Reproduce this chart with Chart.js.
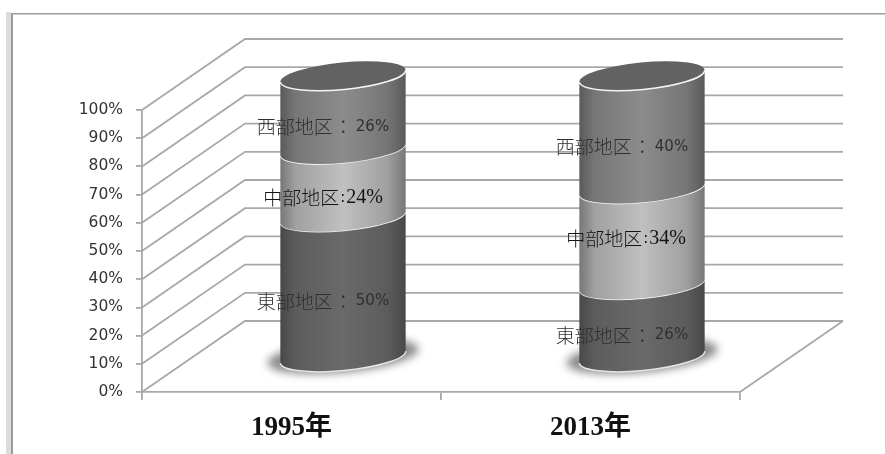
<!DOCTYPE html>
<html>
<head>
<meta charset="utf-8">
<style>
  html, body { margin: 0; padding: 0; background: #fff; }
  canvas { display: block; }
</style>
<script src="https://cdn.jsdelivr.net/npm/chart.js@4/dist/chart.umd.min.js"></script>
</head>
<body>
<canvas id="chart" width="885" height="454"></canvas>
<script>
// Regional share by year
const categories = ['1995年', '2013年'];
const eastShare = [50, 26];
const centralShare = [24, 34];
const westShare = [26, 40];
const eastName = '東部地区';
const centralName = '中部地区';
const westName = '西部地区';

// Shading of the cylinder sides: rim, shoulder, centre
const eastShade = ['#484848', '#5c5c5c', '#6a6a6a'];
const centralShade = ['#767676', '#a0a0a0', '#c0c0c0'];
const westShade = ['#5a5a5a', '#767676', '#8c8c8c'];
const capColour = '#626262';
const hollow = 'rgba(0,0,0,0)';

// Oblique projection of the floor
const depthX = 103;
const depthY = -71;
const cylinderLift = -34;
const tilt = -5.5 * Math.PI / 180;
const minorRadius = 13.5;
const wallColour = '#a8a8a8';

const cjk = '"Noto Sans CJK JP", sans-serif';

function hLine(ctx, x1, y1, x2, y2) {
  ctx.beginPath();
  ctx.moveTo(x1, y1);
  ctx.lineTo(x2, y2);
  ctx.stroke();
}

const framePlugin = {
  id: 'frame',
  beforeDraw(chart) {
    const { ctx, width } = chart;
    ctx.save();
    ctx.fillStyle = '#ffffff';
    ctx.fillRect(0, 0, width, chart.height);
    ctx.fillStyle = '#dcdcdc';
    ctx.fillRect(6, 12, 5, chart.height - 12);
    ctx.fillStyle = '#9c9c9c';
    ctx.fillRect(11, 13, 2, chart.height - 13);
    ctx.fillRect(11, 13, width - 11, 1.5);
    ctx.restore();
  }
};

const wallsPlugin = {
  id: 'walls',
  beforeDatasetsDraw(chart) {
    const { ctx, chartArea: a, scales: { y } } = chart;
    ctx.save();
    ctx.strokeStyle = wallColour;
    ctx.lineWidth = 1.8;
    y.ticks.forEach(t => {
      const py = y.getPixelForValue(t.value);
      ctx.beginPath();
      ctx.moveTo(a.left, py);
      ctx.lineTo(a.left + depthX, py + depthY);
      ctx.lineTo(a.right + depthX, py + depthY);
      ctx.stroke();
    });
    hLine(ctx, a.right, a.bottom, a.right + depthX, a.bottom + depthY);
    ctx.restore();
  }
};

const cylinderPlugin = {
  id: 'cylinders',
  afterDatasetsDraw(chart) {
    const { ctx, data, scales: { y } } = chart;
    const shades = [eastShade, centralShade, westShade];
    const top = data.datasets.length - 1;
    const zero = y.getPixelForValue(0);
    ctx.save();

    // Soft pool of shadow under each base
    chart.getDatasetMeta(0).data.forEach(bar => {
      const cx = bar.x + depthX / 2;
      const cy = zero + cylinderLift - 2;
      ctx.save();
      ctx.filter = 'blur(4px)';
      ctx.fillStyle = '#8a8a8a';
      ctx.beginPath();
      ctx.ellipse(cx, cy, bar.width / 2 + 13, minorRadius + 3, tilt, 0, Math.PI * 2);
      ctx.fill();
      ctx.restore();
    });

    data.datasets.forEach((ds, i) => {
      chart.getDatasetMeta(i).data.forEach(bar => {
        const r = bar.width / 2;
        const cx = bar.x + depthX / 2;
        const yTop = bar.y + cylinderLift;
        const yBase = bar.base + cylinderLift;
        const dx = r * Math.cos(tilt);
        const dy = r * Math.sin(tilt);
        const side = ctx.createLinearGradient(cx - r, 0, cx + r, 0);
        side.addColorStop(0, shades[i][0]);
        side.addColorStop(0.12, shades[i][1]);
        side.addColorStop(0.5, shades[i][2]);
        side.addColorStop(0.85, shades[i][1]);
        side.addColorStop(1, shades[i][0]);
        ctx.fillStyle = side;
        ctx.beginPath();
        ctx.ellipse(cx, yTop, r, minorRadius, tilt, 0, Math.PI);
        ctx.lineTo(cx - dx, yBase - dy);
        ctx.ellipse(cx, yBase, r, minorRadius, tilt, Math.PI, 0, true);
        ctx.closePath();
        ctx.fill();

        if (i === 0) {
          ctx.strokeStyle = '#e6e6e6';
          ctx.lineWidth = 1.5;
          ctx.beginPath();
          ctx.ellipse(cx, yBase, r, minorRadius, tilt, 0, Math.PI);
          ctx.stroke();
        }
        if (i === top) {
          ctx.fillStyle = capColour;
          ctx.beginPath();
          ctx.ellipse(cx, yTop, r, minorRadius, tilt, 0, Math.PI * 2);
          ctx.fill();
        }
        ctx.strokeStyle = '#f4f4f4';
        ctx.lineWidth = 1.6;
        ctx.beginPath();
        ctx.ellipse(cx, yTop, r, minorRadius, tilt, 0, Math.PI);
        ctx.stroke();
      });
    });

    // Segment captions: region name, colon, share
    ctx.textBaseline = 'middle';
    ctx.textAlign = 'left';
    data.datasets.forEach((ds, i) => {
      const central = i === 1;
      chart.getDatasetMeta(i).data.forEach((bar, k) => {
        const midY = (bar.y + bar.base) / 2 + cylinderLift + minorRadius + 1;
        const nudge = central && k === 1 ? -12 : 0;
        const value = ds.data[k] + '%';
        const nameFont = '300 19px ' + cjk;
        const valueFont = central ? '20px "Liberation Serif", serif' : '15px "DejaVu Sans", sans-serif';
        const colon = central ? ':' : '：';
        const colonFont = central ? '15px "DejaVu Sans", sans-serif' : '300 19px ' + cjk;
        ctx.font = nameFont;
        const w1 = ctx.measureText(ds.label).width;
        ctx.font = colonFont;
        const w2 = ctx.measureText(colon).width + (central ? 2 : 4);
        ctx.font = valueFont;
        const w3 = ctx.measureText(value).width;
        const cx = bar.x + depthX / 2 - 20 + (central && k === 1 ? 4 : 0);
        let x = cx - (w1 + w2 + w3) / 2;
        ctx.fillStyle = central ? '#141414' : '#303030';
        ctx.font = nameFont;
        ctx.fillText(ds.label, x, midY + nudge);
        x += w1;
        ctx.font = colonFont;
        ctx.fillText(colon, x + 1, midY + nudge);
        x += w2;
        ctx.font = valueFont;
        ctx.fillText(value, x, midY + nudge);
      });
    });
    ctx.restore();
  }
};

new Chart(document.getElementById('chart'), {
  type: 'bar',
  data: {
    labels: categories,
    datasets: [
      { label: eastName, data: eastShare, backgroundColor: hollow },
      { label: centralName, data: centralShare, backgroundColor: hollow },
      { label: westName, data: westShare, backgroundColor: hollow }
    ]
  },
  plugins: [framePlugin, wallsPlugin, cylinderPlugin],
  options: {
    responsive: false,
    animation: false,
    events: [],
    datasets: { bar: { categoryPercentage: 1, barPercentage: 0.421, borderWidth: 0 } },
    layout: { padding: { top: 110, right: 145, left: 0, bottom: 0 } },
    plugins: { colors: { enabled: false }, legend: { display: false }, title: { display: false }, tooltip: { enabled: false } },
    scales: {
      x: {
        stacked: true,
        afterFit: s => { s.height = 62; },
        border: { color: wallColour, width: 1.8 },
        grid: { drawOnChartArea: false, color: wallColour, lineWidth: 1.8, tickLength: 8, offset: true },
        ticks: {
          color: '#111111',
          padding: 12,
          maxRotation: 0,
          font: { family: '"Liberation Serif", ' + cjk, size: 27, weight: 'bold' }
        }
      },
      y: {
        stacked: true,
        min: 0,
        max: 100,
        afterFit: s => { s.width = 142; },
        border: { color: wallColour, width: 1.8 },
        grid: { drawOnChartArea: false, color: wallColour, lineWidth: 1.8, tickLength: 6 },
        ticks: {
          stepSize: 10,
          color: '#333333',
          padding: 13,
          callback: v => v + '%',
          font: { family: '"DejaVu Sans", sans-serif', size: 15.5 }
        }
      }
    }
  }
});
</script>
</body>
</html>
